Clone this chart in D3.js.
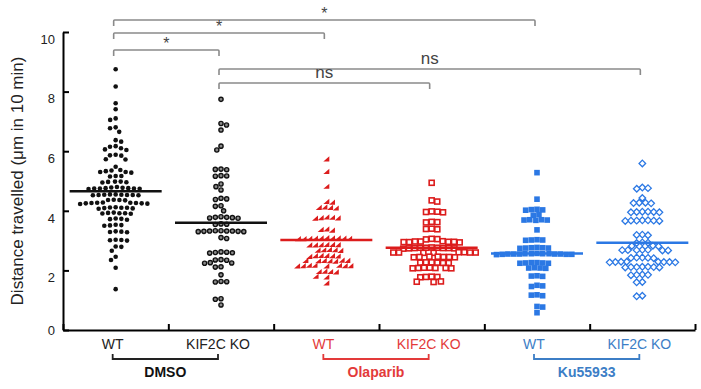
<!DOCTYPE html>
<html>
<head>
<meta charset="utf-8">
<script src="https://cdn.jsdelivr.net/npm/d3@7"></script>
<style>body{margin:0;background:#fff;overflow:hidden}svg{display:block}</style>
</head>
<body>
<script>
// data
var categories = ['WT DMSO', 'KO DMSO', 'WT Olaparib', 'KO Olaparib', 'WT Ku55933', 'KO Ku55933']
var catLabels = ['WT', 'KIF2C KO', 'WT', 'KIF2C KO', 'WT', 'KIF2C KO']
var treatments = ['DMSO', 'Olaparib', 'Ku55933']
var yTicks = [0, 2, 4, 6, 8, 10]
var medians = [4.66, 3.6, 3.02, 2.76, 2.57, 2.93]

var wtDmso = [8.75, 8.17, 7.61, 7.41, 7.1, 7.05, 6.8, 6.77, 6.65, 6.37, 6.32, 6.17, 6.15, 6.1, 6.04, 6.06, 5.88, 5.86, 5.85,
  5.73, 5.72, 5.48, 5.37, 5.35, 5.33, 5.3, 5.28, 5.3, 5.17, 5.15, 5.17, 4.98, 4.97, 4.95, 4.96, 4.98, 4.78, 4.75, 4.74,
  4.76, 4.75, 4.73, 4.77, 4.75, 4.8, 4.76, 4.55, 4.53, 4.52, 4.54, 4.53, 4.55, 4.52, 4.53, 4.54, 4.37, 4.36, 4.35, 4.36,
  4.27, 4.25, 4.26, 4.24, 4.25, 4.27, 4.23, 4.26, 4.28, 4.1, 4.08, 4.12, 4.09, 4.1, 4.11, 4.07, 3.93, 3.92, 3.9, 3.94,
  3.91, 3.92, 3.73, 3.72, 3.7, 3.74, 3.52, 3.5, 3.53, 3.51, 3.3, 3.28, 3.29, 3.31, 3.03, 3.01, 3.02, 3.0, 2.8, 2.79,
  2.66, 2.46, 2.35, 2.09, 1.37]
var koDmso = [7.74, 6.93, 6.88, 6.71, 6.17, 6.04, 5.4, 5.38, 5.39, 5.18, 5.16, 5.17, 4.9, 4.81, 4.7, 4.42, 4.4, 4.38,
  4.17, 4.15, 4.0, 3.78, 3.77, 3.76, 3.75, 3.78, 3.8, 3.56, 3.55, 3.54, 3.33, 3.32, 3.31, 3.32, 3.3, 3.33, 3.31, 3.32,
  3.3, 3.1, 3.07, 2.62, 2.6, 2.61, 2.58, 2.59, 2.36, 2.35, 2.34, 2.26, 2.24, 2.25, 2.12, 2.11, 1.85, 1.63, 1.62, 1.61,
  1.05, 1.03, 0.84]
var wtOla = [5.73, 5.31, 4.81, 4.3, 4.28, 4.12, 4.1, 4.08, 4.1, 3.78, 3.76, 3.74, 3.77, 3.75, 3.38, 3.36, 3.34, 3.08,
  3.07, 3.06, 3.08, 3.05, 3.07, 3.09, 3.06, 3.08, 3.05, 2.86, 2.85, 2.84, 2.86, 2.85, 2.84, 2.68, 2.67, 2.69, 2.68,
  2.66, 2.49, 2.48, 2.47, 2.49, 2.48, 2.46, 2.32, 2.31, 2.33, 2.32, 2.3, 2.31, 2.32, 2.16, 2.15, 2.14, 2.16, 2.15,
  2.14, 2.16, 2.15, 1.96, 1.95, 1.94, 1.95, 1.79, 1.77, 1.57]
var koOla = [4.94, 4.35, 4.31, 3.98, 3.96, 3.95, 3.97, 3.63, 3.61, 3.62, 3.4, 3.39, 3.38, 3.05, 3.06, 3.04, 2.97,
  2.96, 2.95, 2.94, 2.95, 2.96, 2.98, 2.97, 2.76, 2.75, 2.74, 2.76, 2.75, 2.74, 2.77, 2.73, 2.75, 2.76, 2.61, 2.6,
  2.59, 2.6, 2.61, 2.6, 2.59, 2.6, 2.46, 2.45, 2.44, 2.45, 2.46, 2.45, 2.44, 2.27, 2.26, 2.25, 2.26, 2.27, 2.25,
  2.09, 2.08, 2.07, 2.08, 2.09, 2.08, 2.07, 1.79, 1.78, 1.77, 1.78, 1.63, 1.62, 1.61]
var wtKu = [5.28, 4.39, 4.05, 4.03, 4.02, 4.04, 3.87, 3.85, 3.7, 3.69, 3.68, 3.7, 3.69, 3.36, 3.03, 3.02, 3.01, 3.02,
  2.76, 2.75, 2.74, 2.75, 2.76, 2.77, 2.56, 2.55, 2.54, 2.55, 2.56, 2.55, 2.54, 2.56, 2.55, 2.53, 2.57, 2.54, 2.55,
  2.56, 2.26, 2.25, 2.24, 2.25, 2.26, 2.24, 2.09, 2.08, 2.07, 2.08, 1.82, 1.81, 1.8, 1.5, 1.48, 1.46, 1.18, 1.17,
  1.15, 0.79, 0.77, 0.58]
var koKu = [5.59, 4.78, 4.76, 4.74, 4.43, 4.27, 4.26, 4.25, 4.27, 3.97, 3.96, 3.95, 3.96, 3.97, 3.95, 3.68, 3.67,
  3.66, 3.67, 3.68, 3.66, 3.67, 3.2, 3.19, 3.18, 2.93, 2.94, 2.92, 2.82, 2.83, 2.81, 2.68, 2.69, 2.67, 2.68, 2.69,
  2.67, 2.68, 2.43, 2.42, 2.41, 2.42, 2.43, 2.29, 2.28, 2.27, 2.28, 2.29, 2.27, 2.28, 2.29, 2.12, 2.11, 2.1, 2.12,
  2.11, 2.1, 2.11, 1.86, 1.85, 1.84, 1.85, 1.61, 1.6, 1.15, 1.13]

// pairs of categories compared above the plot
var comparisons = [[0, 4, '*'], [0, 2, '*'], [0, 1, '*'], [1, 5, 'ns'], [1, 3, 'ns']]

var height = 389
var width = 701
var margin = { left: 63, right: 6, top: 32, bottom: 59 }

var black = '#111', red = '#dc1c1c', blue = '#2b78e4'
var labelColor = ['#222', '#e33a3a', '#3c7ec6']
var font = 'Liberation Sans, Arial, sans-serif'

var svg = d3.select('body').append('svg').attr('height', height).attr('width', width)

// scales in page coordinates so every text keeps positive x/y
var xScale = d3.scaleBand().domain(categories).range([margin.left, width - margin.right])
var yScale = d3.scaleLinear().domain([0, 10]).range([height - margin.bottom, margin.top])
var cx = i => xScale(categories[i]) + xScale.bandwidth() / 2
var y0 = yScale(0)

// simple beeswarm: push each point to the nearest free spot
function swarm(values, diam) {
    var placed = []
    values.map(v => ({ v: v, y: yScale(v) })).sort((a, b) => b.v - a.v).forEach((p, i) => {
        var ivs = placed.filter(q => Math.abs(q.y - p.y) < diam).map(q => {
            var dx = Math.sqrt(diam * diam - (q.y - p.y) * (q.y - p.y))
            return [q.x - dx, q.x + dx]
        })
        var cands = [0].concat(...ivs)
        var ok = cands.filter(c => ivs.every(iv => c <= iv[0] + 1e-6 || c >= iv[1] - 1e-6))
        ok.sort((a, b) => Math.abs(a) - Math.abs(b) || (i % 2 ? a - b : b - a))
        p.x = ok[0]
        placed.push(p)
    })
    return placed
}

var series = [
    { values: wtDmso, color: black, shape: 'dot' },
    { values: koDmso, color: black, shape: 'ring' },
    { values: wtOla, color: red, shape: 'tri' },
    { values: koOla, color: red, shape: 'sqOpen' },
    { values: wtKu, color: blue, shape: 'sq' },
    { values: koKu, color: blue, shape: 'diaOpen' }
]

series.forEach((s, i) => {
    var c = cx(i)
    var pts = swarm(s.values, 5.7)
    var sel = svg.append('g').selectAll('.pt').data(pts).enter()
    if (s.shape === 'dot') {
        sel.append('circle').attr('cx', d => c + d.x).attr('cy', d => d.y).attr('r', 2.3).attr('fill', s.color)
    } else if (s.shape === 'ring') {
        sel.append('circle').attr('cx', d => c + d.x).attr('cy', d => d.y).attr('r', 2.1)
            .attr('fill', '#8a8a8a').attr('stroke', s.color).attr('stroke-width', 1.4)
    } else if (s.shape === 'tri') {
        sel.append('path').attr('d', 'M-3,2.2L3,2.2L3,-3Z').attr('transform', d => `translate(${c + d.x},${d.y})`).attr('fill', s.color)
    } else if (s.shape === 'sqOpen') {
        sel.append('rect').attr('x', d => c + d.x - 2.5).attr('y', d => d.y - 2.5).attr('width', 5).attr('height', 5)
            .attr('fill', '#fff').attr('stroke', s.color).attr('stroke-width', 1.6)
    } else if (s.shape === 'sq') {
        sel.append('rect').attr('x', d => c + d.x - 2.8).attr('y', d => d.y - 2.8).attr('width', 5.6).attr('height', 5.6).attr('fill', s.color)
    } else {
        sel.append('path').attr('d', 'M0,-3.3L3.3,0L0,3.3L-3.3,0Z').attr('transform', d => `translate(${c + d.x},${d.y})`)
            .attr('fill', '#fff').attr('stroke', s.color).attr('stroke-width', 1.3)
    }
    // median line
    svg.append('line').attr('x1', c - 46).attr('x2', c + 46).attr('y1', yScale(medians[i])).attr('y2', yScale(medians[i]))
        .attr('stroke', s.color).attr('stroke-width', 2.5)
})

// axes (lines only; labels drawn as plain texts below)
var yAxis = d3.axisLeft(yScale).tickValues(yTicks).tickSize(-6).tickSizeOuter(0).tickFormat('')
var yg = svg.append('g').attr('transform', `translate(${margin.left},0)`).call(yAxis)
var xAxis = d3.axisBottom(d3.scaleLinear().domain([0, categories.length]).range(xScale.range()))
    .ticks(categories.length).tickSize(-6).tickSizeOuter(0)
var xg = svg.append('g').attr('transform', `translate(0,${y0})`).call(xAxis)
svg.selectAll('.tick text').remove()
svg.selectAll('.domain').attr('stroke', '#000').attr('stroke-width', 2)
svg.selectAll('.tick line').attr('stroke', '#000').attr('stroke-width', 2)

// y tick labels sit a little below their ticks in the original
svg.append('g').selectAll('text').data(yTicks).enter().append('text')
    .attr('x', margin.left - 8).attr('y', d => yScale(d)).attr('dy', d => d === 0 ? '0.4em' : '0.9em')
    .attr('text-anchor', 'end').attr('font-family', font).attr('font-size', 13).attr('fill', '#222')
    .text(d => d)

// category labels and treatment brackets
catLabels.forEach((t, i) => {
    var k = Math.floor(i / 2)
    svg.append('text').attr('x', cx(i) - 3).attr('y', y0 + 19).attr('text-anchor', 'middle')
        .attr('font-family', font).attr('font-size', 14).attr('fill', labelColor[k])
        .text(t)
})
treatments.forEach((t, k) => {
    var x1 = cx(2 * k) - 3, x2 = cx(2 * k + 1) - 3
    svg.append('path').attr('d', `M${x1},${y0 + 24}V${y0 + 29}H${x2}V${y0 + 24}`)
        .attr('fill', 'none').attr('stroke', labelColor[k]).attr('stroke-width', 1.8)
    svg.append('text').attr('x', (x1 + x2) / 2).attr('y', y0 + 47).attr('text-anchor', 'middle')
        .attr('font-family', font).attr('font-size', 14).attr('font-weight', 'bold')
        .attr('fill', k === 0 ? '#111' : labelColor[k]).text(t)
})

// significance brackets
var bracketTop = [20, 33, 50, 69, 83]
comparisons.forEach((c, k) => {
    var x1 = cx(c[0]) - 2, x2 = cx(c[1]) - 2, by = bracketTop[k]
    svg.append('path').attr('d', `M${x1},${by + 6}V${by + 1}Q${x1},${by} ${x1 + 1},${by}H${x2 - 1}Q${x2},${by} ${x2},${by + 1}V${by + 6}`)
        .attr('fill', 'none').attr('stroke', '#8a8a8a').attr('stroke-width', 1.6)
    var star = c[2] === '*'
    svg.append('text').attr('x', (x1 + x2) / 2).attr('y', star ? by - 1 : by - 5).attr('text-anchor', 'middle')
        .attr('font-family', font).attr('font-size', star ? 16 : 17).attr('fill', '#444').text(c[2])
})

// y title
svg.append('text').attr('transform', `translate(23,${181}) rotate(-90)`).attr('text-anchor', 'middle')
    .attr('font-family', font).attr('font-size', 17).attr('fill', '#222').text('Distance travelled (μm in 10 min)')
</script>
</body>
</html>
